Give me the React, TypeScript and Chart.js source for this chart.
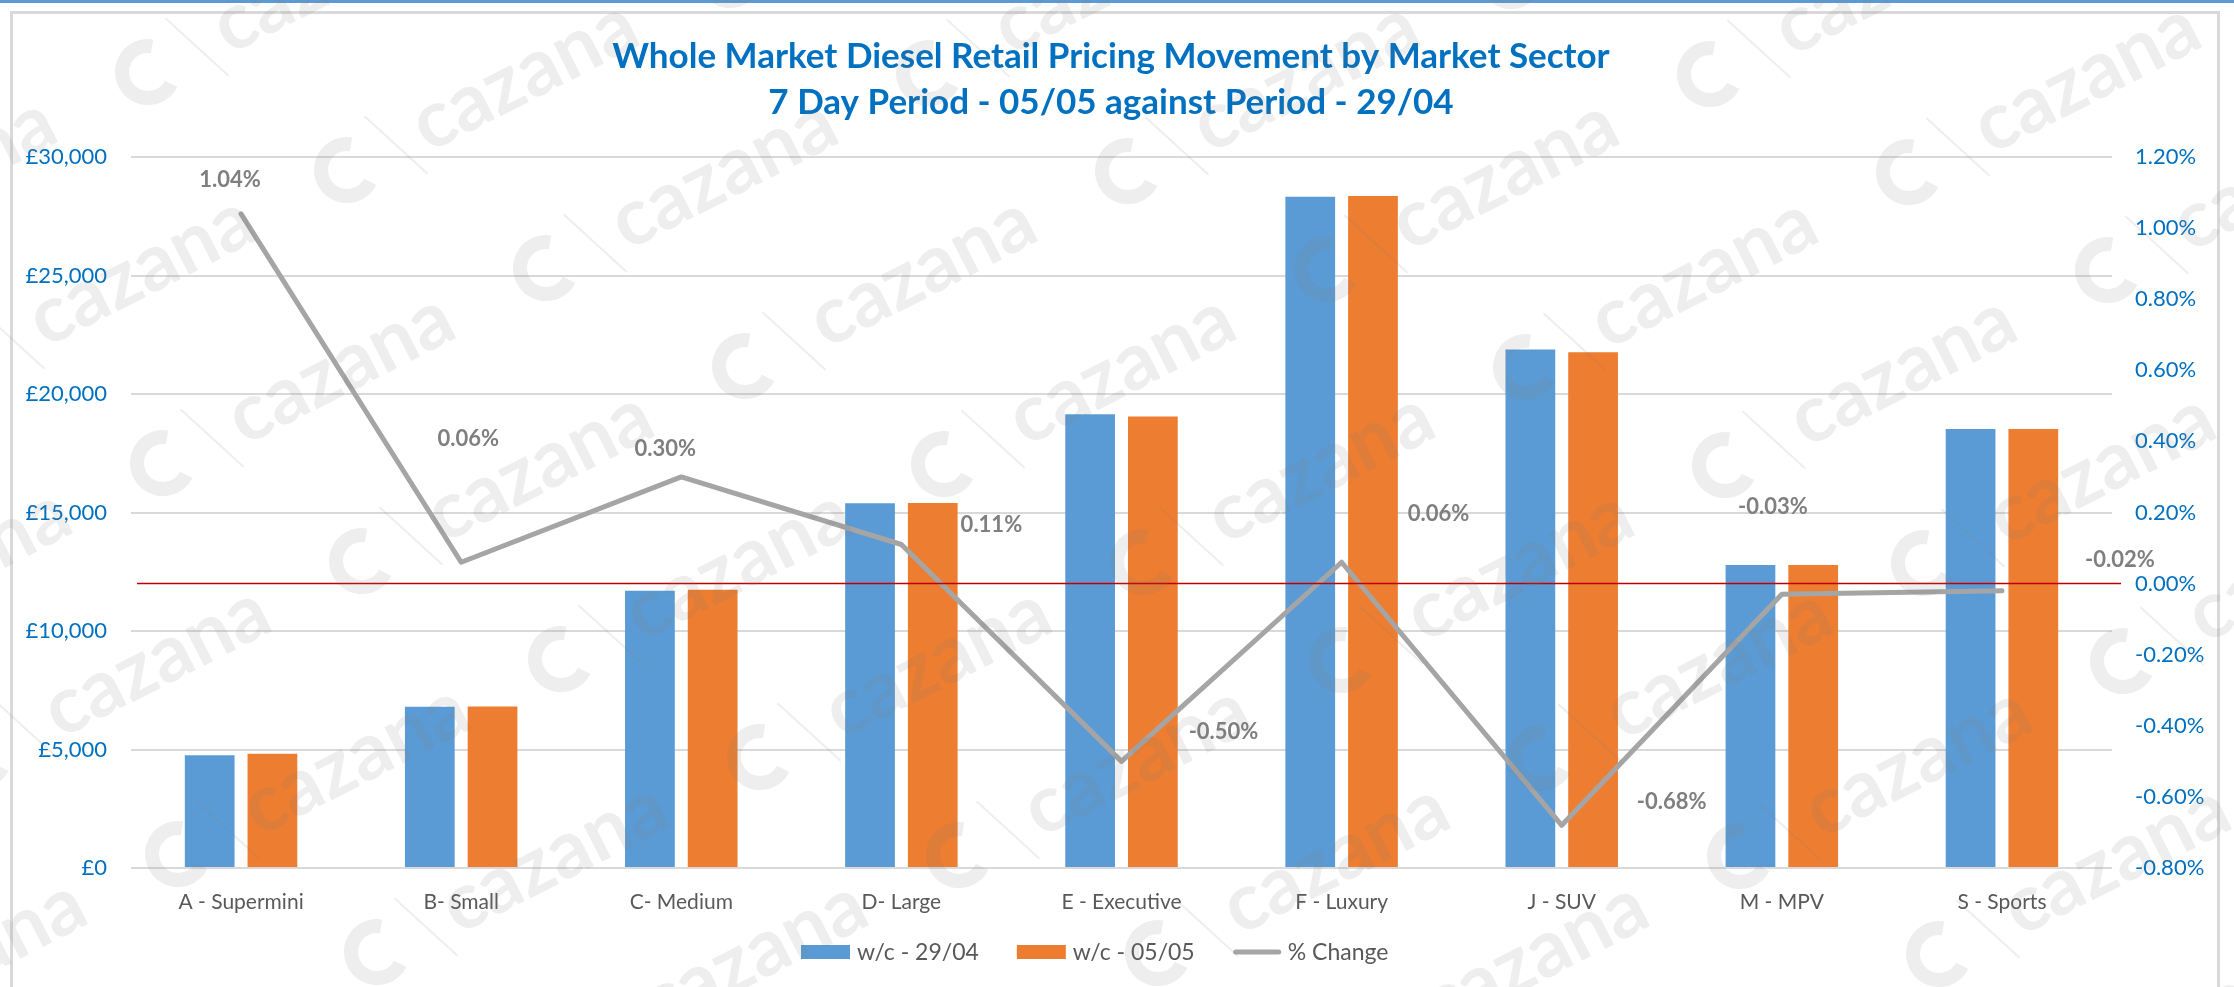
import React, { useEffect, useRef } from "react";
import { Chart, registerables } from "chart.js";

Chart.register(...registerables);

// ---------- data ----------
const categories = [
  "A - Supermini",
  "B- Small",
  "C- Medium",
  "D- Large",
  "E - Executive",
  "F - Luxury",
  "J - SUV",
  "M - MPV",
  "S - Sports",
];
const pricesWc2904 = [4760, 6800, 11700, 15390, 19150, 28320, 21880, 12790, 18520];
const pricesWc0505 = [4820, 6810, 11740, 15400, 19050, 28350, 21760, 12790, 18520];
const pctChange = [1.04, 0.06, 0.3, 0.11, -0.5, 0.06, -0.68, -0.03, -0.02];
const seriesNames = ["w/c - 29/04", "w/c - 05/05", "% Change"];
const titleLines = [
  "Whole Market Diesel Retail Pricing Movement by Market Sector",
  "7 Day Period - 05/05 against Period - 29/04",
];
const priceMin = 0;
const priceMax = 30000;
const priceStep = 5000;
const pctMin = -0.8;
const pctMax = 1.2;
const pctStep = 0.2;

// label placement offsets (px) of the % change data labels, as placed in the original
const labelOffsets = [
  [-11, -34],
  [7, -123],
  [-16, -28],
  [90, -20],
  [102, -29],
  [97, -48],
  [110, -23],
  [-9, -87],
  [118, -31],
];

// ---------- styles ----------
const FONT = "Lato, 'Open Sans', sans-serif";
const BLUE = "#5B9BD5";
const ORANGE = "#ED7D31";
const GREY_LINE = "#A5A5A5";
const AXIS_BLUE = "#0070C0";
const TEXT_GREY = "#595959";
const LABEL_GREY = "#7F7F7F";
const GRID = "#D9D9D9";
const ZERO_RED = "#C00000";
const W = 2234;
const H = 987;

function drawWatermark(ctx: CanvasRenderingContext2D) {
  const u = [383, -195];
  const v = [199, 98];
  const col = "rgba(120,120,120,0.13)";
  ctx.save();
  ctx.fillStyle = col;
  ctx.strokeStyle = col;
  for (let i = -6; i <= 12; i++) {
    for (let j = -6; j <= 12; j++) {
      const x = 148 + i * u[0] + j * v[0];
      const y = 72 + i * u[1] + j * v[1];
      if (x < -450 || x > W + 80 || y < -120 || y > H + 260) continue;
      ctx.save();
      ctx.translate(x, y);
      ctx.rotate((-27 * Math.PI) / 180);
      ctx.lineWidth = 14;
      ctx.beginPath();
      ctx.arc(0, 0, 26, 0.3 * Math.PI, 1.7 * Math.PI);
      ctx.stroke();
      ctx.lineWidth = 2;
      ctx.beginPath();
      ctx.moveTo(40, -40);
      ctx.lineTo(70, 40);
      ctx.stroke();
      ctx.font = `bold 80px ${FONT}`;
      ctx.textBaseline = "middle";
      ctx.textAlign = "left";
      ctx.fillText("cazana", 80, -4);
      ctx.restore();
    }
  }
  ctx.restore();
}

const decorPlugin = {
  id: "decor",
  beforeDraw(chart: any) {
    const ctx: CanvasRenderingContext2D = chart.ctx;
    ctx.save();
    ctx.fillStyle = "#FFFFFF";
    ctx.fillRect(0, 0, W, H);
    ctx.fillStyle = "#5B9BD5";
    ctx.fillRect(0, 0, W, 3);
    ctx.strokeStyle = GRID;
    ctx.lineWidth = 3;
    ctx.strokeRect(11.5, 12.5, 2207, H + 20);
    // title
    ctx.fillStyle = AXIS_BLUE;
    ctx.font = `bold 35px ${FONT}`;
    ctx.textAlign = "center";
    ctx.textBaseline = "middle";
    ctx.fillText(titleLines[0], 1111, 57);
    ctx.fillText(titleLines[1], 1111, 103);
    ctx.restore();
  },
  afterDatasetsDraw(chart: any) {
    const ctx: CanvasRenderingContext2D = chart.ctx;
    const area = chart.chartArea;
    const y1 = chart.scales.y1;
    const y0 = y1.getPixelForValue(0);
    ctx.save();
    ctx.strokeStyle = ZERO_RED;
    ctx.lineWidth = 1.5;
    ctx.beginPath();
    ctx.moveTo(area.left + 6, y0);
    ctx.lineTo(area.right + 9, y0);
    ctx.stroke();
    // data labels for the % change line
    const meta = chart.getDatasetMeta(0);
    ctx.fillStyle = LABEL_GREY;
    ctx.font = `bold 22px ${FONT}`;
    ctx.textAlign = "center";
    ctx.textBaseline = "middle";
    meta.data.forEach((pt: any, i: number) => {
      const txt = pctChange[i].toFixed(2) + "%";
      ctx.fillText(txt, pt.x + labelOffsets[i][0], pt.y + labelOffsets[i][1]);
    });
    ctx.restore();
  },
  afterDraw(chart: any) {
    const ctx: CanvasRenderingContext2D = chart.ctx;
    ctx.save();
    // legend
    ctx.font = `23px ${FONT}`;
    ctx.textBaseline = "middle";
    ctx.textAlign = "left";
    const colors = [BLUE, ORANGE, GREY_LINE];
    const symW = [49, 49, 49];
    const symGap = [7, 7, 6];
    const itemGap = 38;
    const widths = seriesNames.map((n, i) => symW[i] + symGap[i] + ctx.measureText(n).width);
    let x = 801;
    const cy = 952;
    seriesNames.forEach((n, i) => {
      if (i < 2) {
        ctx.fillStyle = colors[i];
        ctx.fillRect(x, cy - 7, symW[i], 14);
      } else {
        ctx.strokeStyle = colors[i];
        ctx.lineWidth = 5;
        ctx.lineCap = "round";
        ctx.beginPath();
        ctx.moveTo(x + 3, cy);
        ctx.lineTo(x + symW[i] - 3, cy);
        ctx.stroke();
      }
      ctx.fillStyle = TEXT_GREY;
      ctx.fillText(n, x + symW[i] + symGap[i], cy + 1);
      x += widths[i] + itemGap;
    });
    ctx.restore();
    drawWatermark(ctx);
  },
};

export default function App() {
  const ref = useRef<HTMLCanvasElement | null>(null);
  useEffect(() => {
    if (!ref.current) return;
    const chart = new Chart(ref.current, {
      type: "bar",
      data: {
        labels: categories,
        datasets: [
          {
            type: "line",
            label: seriesNames[2],
            data: pctChange,
            yAxisID: "y1",
            borderColor: GREY_LINE,
            backgroundColor: GREY_LINE,
            borderWidth: 5,
            pointRadius: 0,
            tension: 0,
            borderJoinStyle: "round",
            borderCapStyle: "round",
            order: 0,
          } as any,
          {
            type: "bar",
            label: seriesNames[0],
            data: pricesWc2904,
            yAxisID: "y",
            backgroundColor: BLUE,
            categoryPercentage: 0.57,
            barPercentage: 0.793,
            order: 1,
          },
          {
            type: "bar",
            label: seriesNames[1],
            data: pricesWc0505,
            yAxisID: "y",
            backgroundColor: ORANGE,
            categoryPercentage: 0.57,
            barPercentage: 0.793,
            order: 1,
          },
        ],
      },
      options: {
        responsive: false,
        animation: false,
        devicePixelRatio: 1,
        layout: { padding: { left: 14, right: 16, top: 157, bottom: 0 } },
        plugins: {
          legend: { display: false },
          title: { display: false },
          tooltip: { enabled: false },
        },
        scales: {
          x: {
            grid: { display: false },
            border: { display: false },
            ticks: {
              color: TEXT_GREY,
              font: { family: FONT, size: 21 },
              padding: 14,
              maxRotation: 0,
              autoSkip: false,
            },
            afterFit: (s: any) => {
              s.height = 119;
            },
          },
          y: {
            position: "left",
            min: priceMin,
            max: priceMax,
            ticks: {
              stepSize: priceStep,
              color: AXIS_BLUE,
              font: { family: FONT, size: 22 },
              padding: 24,
              callback: (v: any) => "£" + Number(v).toLocaleString("en-GB"),
            },
            grid: { color: GRID, lineWidth: 2, drawTicks: false },
            border: { display: false },
            afterFit: (s: any) => {
              s.width = 117;
            },
          },
          y1: {
            position: "right",
            min: pctMin,
            max: pctMax,
            ticks: {
              stepSize: pctStep,
              color: AXIS_BLUE,
              font: { family: FONT, size: 22 },
              padding: 23,
              callback: (v: any) => Number(v).toFixed(2) + "%",
            },
            grid: { display: false, drawTicks: false },
            border: { display: false },
            afterFit: (s: any) => {
              s.width = 106;
            },
          },
        },
      },
      plugins: [decorPlugin],
    });
    return () => chart.destroy();
  }, []);
  return (
    <div style={{ position: "fixed", left: 0, top: 0, width: W, height: H }}>
      <canvas ref={ref} width={W} height={H} style={{ width: W, height: H, display: "block" }} />
    </div>
  );
}
